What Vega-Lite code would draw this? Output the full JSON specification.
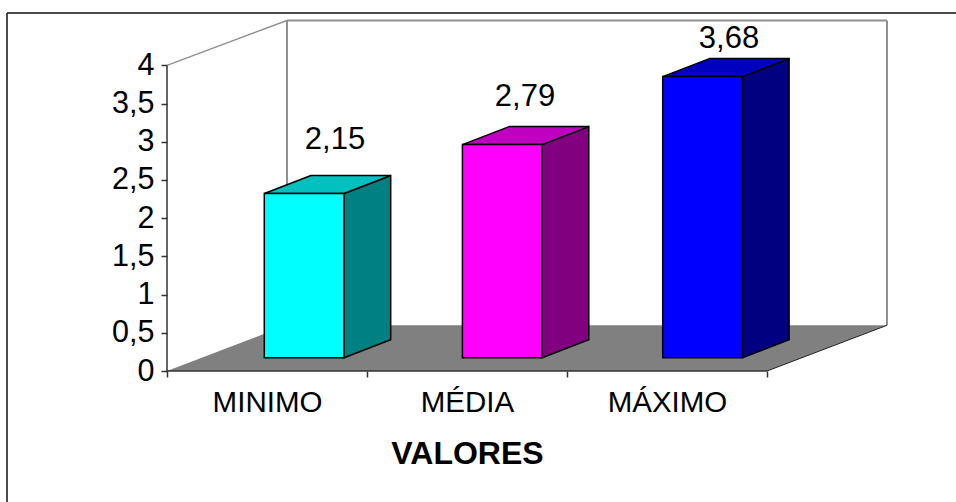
{
  "$schema": "https://vega.github.io/schema/vega-lite/v6.json",
  "description": "Coluna em perspectiva com os valores mínimo, médio e máximo.",
  "width": 720,
  "height": 351,
  "autosize": {"type": "none"},
  "padding": {"left": 167, "top": 20, "right": 69, "bottom": 131},
  "background": "white",
  "config": {"view": {"stroke": null}, "font": "Liberation Sans"},
  "params": [
    {"name": "base", "expr": "0.173"},
    {"name": "largura", "expr": "0.3985"},
    {"name": "fundoX", "expr": "0.2335"},
    {"name": "fundoY", "expr": "0.2356"}
  ],
  "data": {"values": [
    {"categoria": "MINIMO", "valor": 2.15},
    {"categoria": "MÉDIA", "valor": 2.79},
    {"categoria": "MÁXIMO", "valor": 3.68}
  ]},
  "resolve": {"scale": {"color": "independent"}},
  "layer": [
    {
      "data": {"values": [{"k": 0}, {"k": 1}]},
      "transform": [
        {"calculate": "datum.k * 0.6", "as": "xa"},
        {"calculate": "3 + datum.k * 0.6", "as": "xb"},
        {"calculate": "datum.k * 0.598", "as": "ya"}
      ],
      "mark": {"type": "area", "orient": "horizontal", "fill": "#808080", "stroke": null},
      "encoding": {
        "x": {
          "field": "xa", "type": "quantitative", "stack": null,
          "scale": {"domain": [0, 3.6], "nice": false, "zero": false},
          "axis": {
            "values": [0, 0.5, 1, 1.5, 2, 2.5, 3],
            "grid": false, "domain": false, "tickSize": 6, "tickWidth": 1.5, "tickColor": "#333333",
            "tickOpacity": {"condition": {"test": "datum.value % 1 != 0", "value": 0}, "value": 1},
            "labelExpr": "datum.value == 0.5 ? 'MINIMO' : datum.value == 1.5 ? 'MÉDIA' : datum.value == 2.5 ? 'MÁXIMO' : ''",
            "labelFontSize": 29.5, "labelColor": "black", "labelPadding": 11, "labelOverlap": false, "labelBound": false, "labelFlush": false,
            "title": "VALORES", "titleFontSize": 32, "titleFontWeight": "bold", "titleColor": "black",
            "titleX": 300, "titleY": 92, "titleAlign": "center", "titleBaseline": "alphabetic"
          }
        },
        "x2": {"field": "xb"},
        "y": {
          "field": "ya", "type": "quantitative", "stack": null,
          "scale": {"domain": [0, 4.594], "nice": false, "zero": false},
          "axis": {
            "values": [0, 0.5, 1, 1.5, 2, 2.5, 3, 3.5, 4],
            "format": "~g", "labelExpr": "replace(datum.label, '.', ',')",
            "grid": false, "domain": false, "tickSize": 6, "tickWidth": 1.5, "tickColor": "#333333",
            "labelFontSize": 30.5, "labelColor": "black", "labelPadding": 7, "labelOverlap": false, "labelBound": false, "labelFlush": false,
            "title": null
          }
        }
      }
    },
    {
      "data": {"values": [{}]},
      "mark": {"type": "rule", "stroke": "#909090", "strokeWidth": 1.5},
      "encoding": {
        "x": {"datum": 0, "type": "quantitative"}, "x2": {"datum": 0.6},
        "y": {"datum": 4, "type": "quantitative"}, "y2": {"datum": 4.588}
      }
    },
    {
      "data": {"values": [{}]},
      "mark": {"type": "rule", "stroke": "#909090", "strokeWidth": 2},
      "encoding": {
        "x": {"datum": 0.6, "type": "quantitative"}, "x2": {"datum": 3.6},
        "y": {"datum": 4.588, "type": "quantitative"}, "y2": {"datum": 4.588}
      }
    },
    {
      "data": {"values": [{}]},
      "mark": {"type": "rule", "stroke": "#909090", "strokeWidth": 2},
      "encoding": {
        "x": {"datum": 0.6, "type": "quantitative"}, "x2": {"datum": 0.6},
        "y": {"datum": 4.588, "type": "quantitative"}, "y2": {"datum": 0.598}
      }
    },
    {
      "data": {"values": [{}]},
      "mark": {"type": "rule", "stroke": "#909090", "strokeWidth": 2},
      "encoding": {
        "x": {"datum": 3.6, "type": "quantitative"}, "x2": {"datum": 3.6},
        "y": {"datum": 4.588, "type": "quantitative"}, "y2": {"datum": 0.598}
      }
    },
    {
      "data": {"values": [{}]},
      "mark": {"type": "rule", "stroke": "#333333", "strokeWidth": 1.5},
      "encoding": {
        "x": {"datum": 0, "type": "quantitative"}, "x2": {"datum": 0},
        "y": {"datum": 0, "type": "quantitative"}, "y2": {"datum": 4}
      }
    },
    {
      "data": {"values": [{}]},
      "mark": {"type": "rule", "stroke": "#333333", "strokeWidth": 1.5},
      "encoding": {
        "x": {"datum": 0, "type": "quantitative"}, "x2": {"datum": 3},
        "y": {"datum": 0, "type": "quantitative"}, "y2": {"datum": 0}
      }
    },
    {
      "data": {"values": [{}]},
      "mark": {"type": "rule", "stroke": "#222222", "strokeWidth": 1},
      "encoding": {
        "x": {"datum": 3, "type": "quantitative"}, "x2": {"datum": 3.6},
        "y": {"datum": 0, "type": "quantitative"}, "y2": {"datum": 0.598}
      }
    },
    {
      "data": {"values": [{}]},
      "mark": {"type": "rule", "stroke": "#111111", "strokeWidth": 1.5},
      "encoding": {
        "x": {"datum": -0.8, "type": "quantitative"}, "x2": {"datum": 3.945},
        "y": {"datum": 4.686, "type": "quantitative"}, "y2": {"datum": 4.686}
      }
    },
    {
      "data": {"values": [{}]},
      "mark": {"type": "rule", "stroke": "#111111", "strokeWidth": 1.5},
      "encoding": {
        "x": {"datum": -0.8, "type": "quantitative"}, "x2": {"datum": -0.8},
        "y": {"datum": 4.686, "type": "quantitative"}, "y2": {"datum": -1.72}
      }
    },
    {
      "transform": [
        {"calculate": "indexof(['MINIMO','MÉDIA','MÁXIMO'], datum.categoria)", "as": "i"},
        {"calculate": "[0.4865, 1.477, 2.4785][datum.i] + largura", "as": "xf"},
        {"calculate": "[0, 1]", "as": "k"},
        {"flatten": ["k"]},
        {"calculate": "datum.xf + datum.k * fundoX", "as": "sx"},
        {"calculate": "base + datum.k * fundoY", "as": "sy"},
        {"calculate": "base + datum.valor + datum.k * fundoY", "as": "sy2"}
      ],
      "mark": {"type": "area", "orient": "vertical", "stroke": "black", "strokeWidth": 1.5},
      "encoding": {
        "x": {"field": "sx", "type": "quantitative", "stack": null},
        "y": {"field": "sy", "type": "quantitative", "stack": null},
        "y2": {"field": "sy2"},
        "color": {"field": "categoria", "type": "nominal", "legend": null,
          "scale": {"domain": ["MINIMO", "MÉDIA", "MÁXIMO"], "range": ["#008080", "#800080", "#000080"]}}
      }
    },
    {
      "transform": [
        {"calculate": "indexof(['MINIMO','MÉDIA','MÁXIMO'], datum.categoria)", "as": "i"},
        {"calculate": "[0.4865, 1.477, 2.4785][datum.i]", "as": "x0"},
        {"calculate": "[0, 1]", "as": "k"},
        {"flatten": ["k"]},
        {"calculate": "datum.x0 + datum.k * fundoX", "as": "ta"},
        {"calculate": "datum.x0 + largura + datum.k * fundoX", "as": "tb"},
        {"calculate": "base + datum.valor + datum.k * fundoY", "as": "ty"}
      ],
      "mark": {"type": "area", "orient": "horizontal", "stroke": "black", "strokeWidth": 1.5},
      "encoding": {
        "x": {"field": "ta", "type": "quantitative", "stack": null},
        "x2": {"field": "tb"},
        "y": {"field": "ty", "type": "quantitative", "stack": null},
        "color": {"field": "categoria", "type": "nominal", "legend": null,
          "scale": {"domain": ["MINIMO", "MÉDIA", "MÁXIMO"], "range": ["#00C0C0", "#C000C0", "#0000C0"]}}
      }
    },
    {
      "transform": [
        {"calculate": "indexof(['MINIMO','MÉDIA','MÁXIMO'], datum.categoria)", "as": "i"},
        {"calculate": "[0.4865, 1.477, 2.4785][datum.i]", "as": "x0"},
        {"calculate": "datum.x0 + largura", "as": "xf"},
        {"calculate": "base", "as": "y0"},
        {"calculate": "base + datum.valor", "as": "yf"}
      ],
      "mark": {"type": "rect", "stroke": "black", "strokeWidth": 1.5},
      "encoding": {
        "x": {"field": "x0", "type": "quantitative"},
        "x2": {"field": "xf"},
        "y": {"field": "y0", "type": "quantitative"},
        "y2": {"field": "yf"},
        "color": {"field": "categoria", "type": "nominal", "legend": null,
          "scale": {"domain": ["MINIMO", "MÉDIA", "MÁXIMO"], "range": ["#00FFFF", "#FF00FF", "#0000FF"]}}
      }
    },
    {
      "transform": [
        {"calculate": "indexof(['MINIMO','MÉDIA','MÁXIMO'], datum.categoria)", "as": "i"},
        {"calculate": "[0.84, 1.79, 2.81][datum.i]", "as": "xr"},
        {"calculate": "0.864 * datum.valor + 1.17", "as": "yr"},
        {"calculate": "replace(format(datum.valor, '.2f'), '.', ',')", "as": "rotulo"}
      ],
      "mark": {"type": "text", "fontSize": 31, "color": "black", "align": "center", "baseline": "middle"},
      "encoding": {
        "x": {"field": "xr", "type": "quantitative"},
        "y": {"field": "yr", "type": "quantitative"},
        "text": {"field": "rotulo"}
      }
    }
  ]
}
